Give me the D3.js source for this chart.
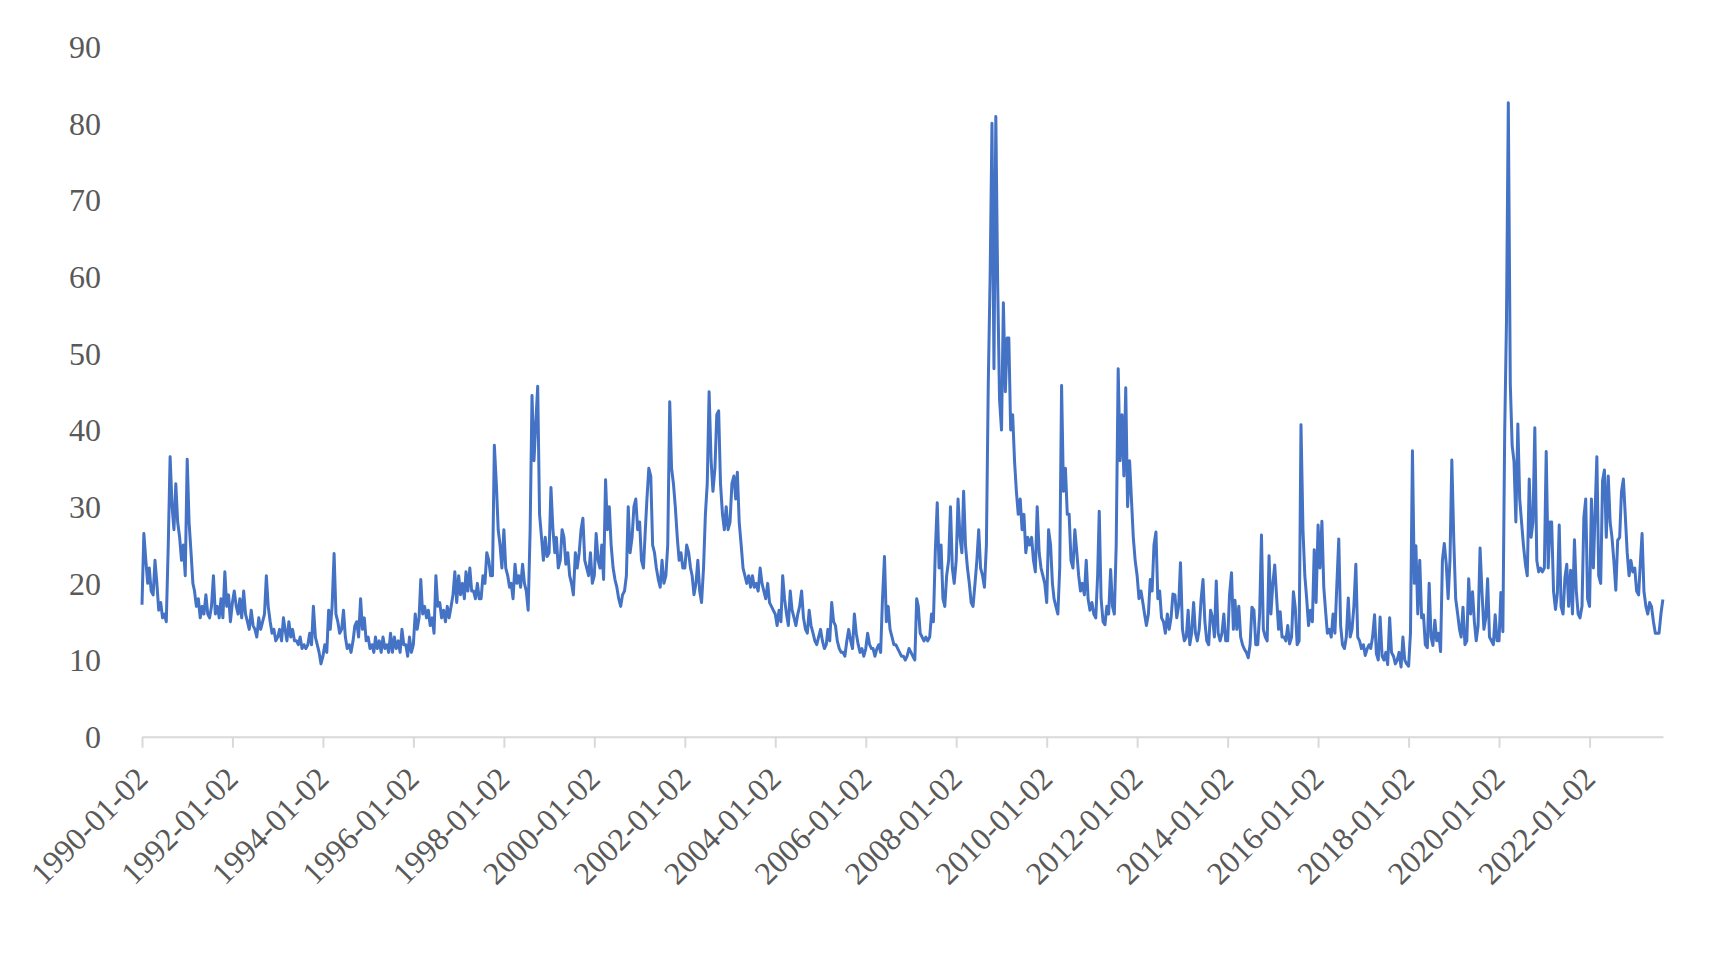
<!DOCTYPE html>
<html>
<head>
<meta charset="utf-8">
<script src="https://cdn.jsdelivr.net/npm/d3@7"></script>
<style>
  body { margin: 0; background: #fff; }
  .tick-label { font-family: "Liberation Serif", "Times New Roman", serif; font-size: 32px; fill: #595959; }
</style>
</head>
<body>
<div id="chart"></div>
<script>
// VIX close: two samples per month (1st half, 2nd half)
const v1990 = [17.2,26.5, 23,20, 22,19, 18.5,23, 20,16.5, 17.5,15.5, 16,15, 25,36.5, 30,27, 33,28, 26,23, 25,21]
const v1991 = [36.2,28, 24,20, 19,17, 18,15.5, 17,16, 18.5,16, 15.5,17, 21,16, 17,15.5, 18,15.5, 21.5,17, 18.5,15]
const v1992 = [17.5,19, 17,16, 18,15.5, 19,16, 15,14, 16.5,14.5, 14,13, 15.5,14, 15,16, 21,17, 15,13.5, 14,12.5]
const v1993 = [13,14, 12.5,15.5, 14,12.5, 15,13, 14,12.5, 12.5,12, 13,11.5, 12,11.5, 12,13.5, 12,17, 13,12, 11,9.5]
const v1994 = [10.5,12, 11,16.5, 14,17, 23.9,16, 15,13.5, 14,16.5, 13,11.5, 12,11, 12.5,14.5, 15,13, 18,14, 15.5,12.5]
const v1995 = [13,11.5, 12,11, 13,11.5, 12.5,11, 13,11.5, 12,11, 13.5,11, 13,11.5, 12.5,11, 14,12, 12,10.5, 13,11]
const v1996 = [12,16, 14,15.5, 20.5,16, 17,15.5, 16.5,14.5, 15.5,13.5, 21,17, 17.5,15.5, 16.5,15, 17,15.5, 17,18.5, 21.5,17.5]
const v1997 = [21,18.5, 20,18, 21.5,19, 22,19, 19,18, 20,18, 18,21, 20,24, 23,21, 21,38, 33,27, 25,22]
const v1998 = [27,22, 21,19.5, 20,18, 22.5,20, 21,19.5, 22.5,20, 19,16.5, 27,44.5, 36,41, 45.7,29, 26,23, 26,23.5]
const v1999 = [24,32.5, 27,24, 26,22, 23,27, 26,22.5, 24,21, 20,18.5, 24,22, 24,27, 28.5,23, 22,21, 24,20]
const v2000 = [21,26.5, 23,22, 25,20.5, 33.5,27, 30,25, 22,20.5, 19.5,18, 17,18.5, 19,21, 30,24, 26,30, 31,27]
const v2001 = [28,23, 22,27, 31,35, 34,25, 24,22, 20.5,19.5, 23,20, 21,25, 43.7,35, 33,30, 26,23, 24,22]
const v2002 = [22,25, 24,22, 21,18.5, 20,23, 19,17.5, 22,29, 33,45, 36,32, 35,42, 42.5,33, 29,27, 30,27]
const v2003 = [28,33, 34,31, 34.5,28, 25,22, 21,20, 21,19.5, 21,19.5, 20,19, 22,20, 19,18, 20,17.5, 17,16.5]
const v2004 = [16,14.5, 16.5,15, 21,18, 16,14.5, 19,16.5, 15.5,14.5, 16,17, 19,15.5, 14,13.5, 16.5,14.5, 13.5,12.5, 12,13]
const v2005 = [14,12.5, 11.5,12, 14,12.5, 17.5,15, 14.5,12.5, 11.5,11, 11,10.5, 12.5,14, 12.5,11.5, 16,13.5, 12,11, 11.5,10.5]
const v2006 = [11.5,13.5, 12,11.5, 11.5,10.5, 11.5,12, 11,18, 23.5,15, 17,14, 13,12, 12,11.5, 11,10.5, 10.5,10, 10.5,11.5]
const v2007 = [11,10.5, 10,18, 17,13.5, 13,12.5, 13,12.5, 13,16, 15,24, 30.5,22, 25,18, 17,21, 23,30, 22,20]
const v2008 = [23,31, 26,24, 32,25, 22,20, 17.5,17, 20,23, 27,22, 21,19.5, 25,46, 60,80, 48,80.9, 59,44]
const v2009 = [40,56.6, 45,52, 52,40, 42,36, 32,29, 31,27, 29,24, 26,25, 26,23, 21.5,30, 24,22, 21,20]
const v2010 = [17.5,27, 25,20, 18,17, 16,22, 45.8,32, 35,29, 29,23, 22,27, 24,21, 19,20, 18.5,23, 18,16.5]
const v2011 = [17.5,16, 15.5,21, 29.4,18, 15,14.6, 17,16, 21.8,17, 16,25, 48,36, 42,34, 45.5,30, 36,31, 26,23]
const v2012 = [21,18, 19,17.5, 16,14.5, 16,20.5, 19,25, 26.7,18, 19,15.5, 15,13.5, 16,14, 15.5,18.6, 18.5,15.5, 17,22.7]
const v2013 = [14,12.5, 13,16.5, 12,13.5, 17.5,13.5, 12.5,14, 18,20.5, 15,12.5, 12,16.5, 15.5,13, 20.3,13.5, 12.5,13.5, 16,12.5]
const v2014 = [12.5,18.5, 21.4,14, 17.8,14, 17,13, 12,11.4, 11,10.3, 12,16.9, 16.5,12, 12,16, 26.3,14, 13,12.5, 23.6,16]
const v2015 = [20,22.4, 18,14, 16.3,13, 13,12.5, 14.5,12.1, 13,18.9, 16.8,12, 12.5,40.7, 27,21, 18,14.5, 16.5,15, 24.4,17.5]
const v2016 = [27.6,22, 28.1,19.5, 16.5,13.5, 14,13, 16,13.5, 20,25.8, 14.5,12, 11.5,13, 18.1,13, 14,17, 22.5,13, 12.5,11.5]
const v2017 = [12,10.6, 11.5,12, 11.5,13, 15.9,10.8, 10,15.6, 10.5,10, 11,9.4, 15.5,11, 10.5,9.5, 10,11, 9.1,13, 10,9.5]
const v2018 = [9.2,13.5, 37.3,20, 24.9,16, 23,15.5, 15.9,12, 11.6,20, 13,11.9, 15.2,12.5, 13.5,11.1, 23,25.2, 22.5,18, 23,36.1]
const v2019 = [25.5,18, 16,14, 13,16.9, 12,12.5, 20.6,16, 18.9,15, 12.5,14.5, 24.6,19, 14,15.5, 20.6,13, 12.5,12, 15.9,12.5]
const v2020 = [12.5,18.8, 13.7,40, 54,82.7, 46,38, 35.9,28, 40.8,31, 28,25, 22.5,21, 33.6,26, 28,40.3, 23,21.5, 22,21.5]
const v2021 = [22,37.2, 22,28, 28,19, 16.6,18.7, 27.6,17, 16,20.7, 22.5,17, 21.7,16, 25.7,19, 16,15.5, 17,28.6, 31,18]
const v2022 = [17,31, 22,30, 36.5,21, 20,33.4, 34.8,26, 34,28, 26,23, 19.1,25.6, 26,32, 33.6,29, 24,21, 23,21.5]
const v2023 = [22,19, 18.5,22.9, 26.5,19, 17,16, 17.5,17, 15,13.5, 13.5,13.5, 16.1,17.9]

const years = d3.range(1990, 2024)
const series = [v1990, v1991, v1992, v1993, v1994, v1995, v1996, v1997, v1998, v1999,
  v2000, v2001, v2002, v2003, v2004, v2005, v2006, v2007, v2008, v2009,
  v2010, v2011, v2012, v2013, v2014, v2015, v2016, v2017, v2018, v2019,
  v2020, v2021, v2022, v2023]

// axis labels
const tickLabels = ['1990-01-02', '1992-01-02', '1994-01-02', '1996-01-02', '1998-01-02',
  '2000-01-02', '2002-01-02', '2004-01-02', '2006-01-02', '2008-01-02', '2010-01-02',
  '2012-01-02', '2014-01-02', '2016-01-02', '2018-01-02', '2020-01-02', '2022-01-02']
const yTicks = [0, 10, 20, 30, 40, 50, 60, 70, 80, 90]
const startDate = '1990-01-02'
const endDate = '2023-08-18'

const width = 1721
const height = 958
const plot = { left: 142, right: 1663, top: 46.7, bottom: 736.7 }

const parse = d3.timeParse('%Y-%m-%d')

// flatten into {date, value}; sample 1 on the 2nd, sample 2 on the 17th
const data = []
series.forEach((vals, yi) => {
  vals.forEach((v, i) => {
    const month = Math.floor(i / 2)
    const day = i % 2 === 0 ? 2 : 17
    data.push({ date: new Date(years[yi], month, day), value: v })
  })
})

const xScale = d3.scaleTime()
  .domain([parse(startDate), parse(endDate)])
  .range([plot.left, plot.right])

const yScale = d3.scaleLinear()
  .domain([0, 90])
  .range([plot.bottom, plot.top])

const svg = d3.select('#chart')
  .append('svg')
  .attr('width', width)
  .attr('height', height)

// x axis
const xAxis = d3.axisBottom(xScale)
  .tickValues(tickLabels.map(parse))
  .tickFormat(d3.timeFormat('%Y-%m-%d'))
  .tickSize(11)
  .tickSizeOuter(0)

const gx = svg.append('g')
  .attr('id', 'x-axis')
  .attr('transform', `translate(0, ${plot.bottom})`)
  .call(xAxis)

gx.select('.domain').attr('stroke', '#D9D9D9').attr('stroke-width', 2)
gx.selectAll('.tick line').attr('stroke', '#D9D9D9').attr('stroke-width', 2)
gx.selectAll('.tick text')
  .attr('class', 'tick-label')
  .attr('text-anchor', 'end')
  .attr('x', 0).attr('y', 0).attr('dy', 0)
  .attr('transform', 'translate(7, 44) rotate(-45)')
  .style('font-family', '"Liberation Serif", serif')
  .style('font-size', '32px')
  .style('fill', '#595959')

// y axis: labels only
const yAxis = d3.axisLeft(yScale)
  .tickValues(yTicks)
  .tickSize(0)
  .tickPadding(0)

const gy = svg.append('g')
  .attr('id', 'y-axis')
  .attr('transform', 'translate(101, 0)')
  .call(yAxis)

gy.select('.domain').remove()
gy.selectAll('.tick text')
  .attr('class', 'tick-label')
  .attr('dy', '0.34em')
  .style('font-family', '"Liberation Serif", serif')
  .style('font-size', '32px')
  .style('fill', '#595959')

// the line
const line = d3.line()
  .x((d) => xScale(d.date))
  .y((d) => yScale(d.value))

svg.append('path')
  .datum(data)
  .attr('fill', 'none')
  .attr('stroke', '#4472C4')
  .attr('stroke-width', 3)
  .attr('stroke-linejoin', 'round')
  .attr('d', line)
</script>
</body>
</html>
